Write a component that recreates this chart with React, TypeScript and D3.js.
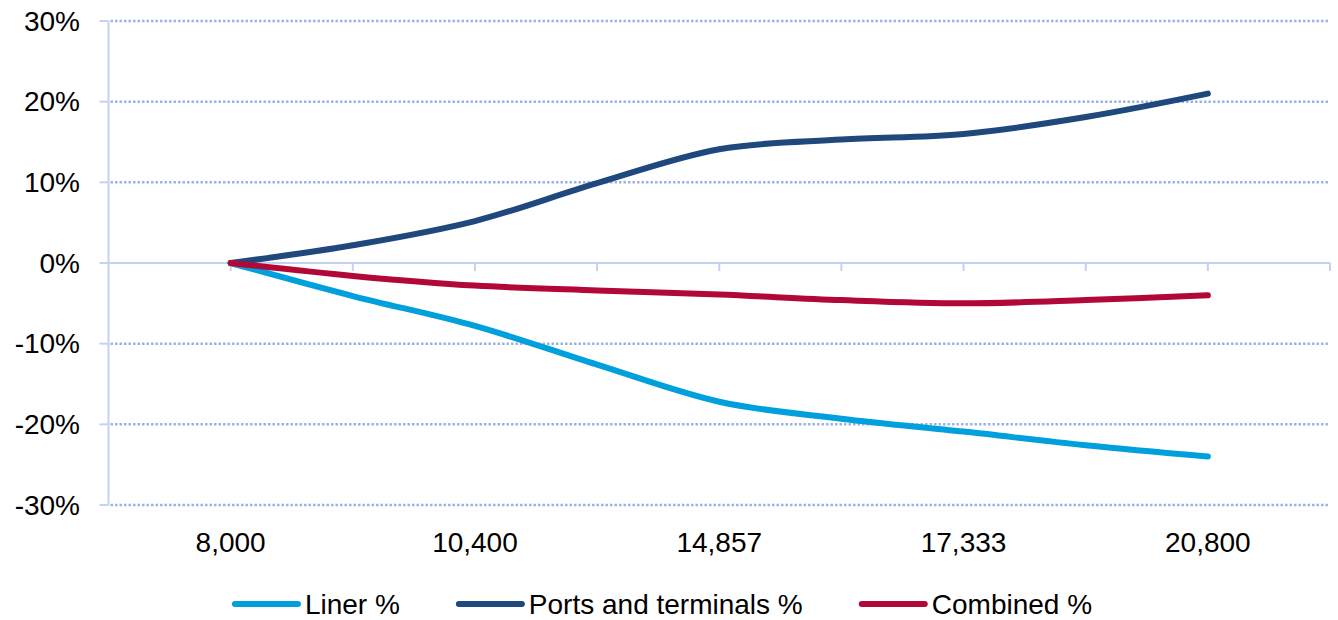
import * as d3 from 'd3';
import React, { useRef, useEffect } from 'react';

// x categories (only every other one carries a label)
const categories = ["8,000", "", "10,400", "", "14,857", "", "17,333", "", "20,800"];
const yTicks = [-0.3, -0.2, -0.1, 0, 0.1, 0.2, 0.3];

const linerValues = [0, -0.041, -0.078, -0.126, -0.172, -0.193, -0.209, -0.226, -0.240];
const portsValues = [0, 0.022, 0.052, 0.099, 0.141, 0.153, 0.160, 0.181, 0.210];
const combinedValues = [0, -0.016, -0.028, -0.034, -0.039, -0.046, -0.050, -0.046, -0.040];

const seriesNames = ["Liner %", "Ports and terminals %", "Combined %"];
const seriesColors = ["#00a0dc", "#1f497d", "#b20838"];

const W = 1338;
const H = 620;

function App() {
    const ref = useRef(null);

    useEffect(() => {
        draw();
    }, []);

    const draw = () => {
        const svg = d3.select(ref.current);
        svg.selectAll("*").remove();

        const font = "'Liberation Sans', Arial, sans-serif";
        const axisColor = "#c3d2f0";
        const gridColor = "#9bb4e6";

        const left = 108.5, right = 1330, top = 21, bottom = 505;

        // one empty slot before the first category and after the last
        const x = d3.scaleLinear().domain([-1, categories.length]).range([left, right]);
        const y = d3.scaleLinear().domain([-0.3, 0.3]).range([bottom, top]);

        // plain hyphen for negatives, like the original
        const pct = (v) => Math.round(v * 100) + "%";

        const g = svg.append("g");

        // dotted gridlines
        g.selectAll(".grid")
            .data(yTicks.filter(d => d !== 0))
            .enter()
            .append("line")
            .attr("x1", left + 2)
            .attr("x2", right)
            .attr("y1", d => y(d))
            .attr("y2", d => y(d))
            .attr("stroke", gridColor)
            .attr("stroke-width", 2.5)
            .attr("stroke-dasharray", "2.5,2");

        // y axis line + outward ticks
        g.append("line")
            .attr("x1", left).attr("x2", left)
            .attr("y1", top).attr("y2", bottom)
            .attr("stroke", axisColor).attr("stroke-width", 2);
        g.selectAll(".ytick")
            .data(yTicks)
            .enter()
            .append("line")
            .attr("x1", left - 9).attr("x2", left)
            .attr("y1", d => y(d)).attr("y2", d => y(d))
            .attr("stroke", axisColor).attr("stroke-width", 2);

        g.selectAll(".ylabel")
            .data(yTicks)
            .enter()
            .append("text")
            .attr("x", 80)
            .attr("y", d => y(d))
            .attr("dy", "0.35em")
            .attr("text-anchor", "end")
            .style("font-family", font)
            .style("font-size", "28px")
            .style("fill", "#000")
            .text(d => pct(d));

        // x axis at 0%
        g.append("line")
            .attr("x1", left).attr("x2", right)
            .attr("y1", y(0)).attr("y2", y(0))
            .attr("stroke", axisColor).attr("stroke-width", 2);
        const tickIdx = d3.range(0, categories.length + 1);
        g.selectAll(".xtick")
            .data(tickIdx)
            .enter()
            .append("line")
            .attr("x1", d => x(d)).attr("x2", d => x(d))
            .attr("y1", y(0)).attr("y2", y(0) + 8)
            .attr("stroke", axisColor).attr("stroke-width", 2);

        g.selectAll(".xlabel")
            .data(categories)
            .enter()
            .append("text")
            .attr("x", (d, i) => x(i))
            .attr("y", 542)
            .attr("dy", "0.35em")
            .attr("text-anchor", "middle")
            .style("font-family", font)
            .style("font-size", "28px")
            .style("fill", "#000")
            .text(d => d);

        // lines
        const allSeries = [linerValues, portsValues, combinedValues];
        const line = d3.line()
            .curve(d3.curveCatmullRom.alpha(0))
            .x((d, i) => x(i))
            .y(d => y(d));

        allSeries.forEach((vals, k) => {
            g.append("path")
                .datum(vals)
                .attr("d", line)
                .attr("fill", "none")
                .attr("stroke", seriesColors[k])
                .attr("stroke-width", 6)
                .attr("stroke-linecap", "round")
                .attr("stroke-linejoin", "round");
        });

        // legend, laid out by measured text width and centred
        const gap = 56;
        const legend = svg.append("g");
        let cx = 0;
        seriesNames.forEach((name, k) => {
            const item = legend.append("g").attr("transform", "translate(" + cx + ",0)");
            item.append("line")
                .attr("x1", 3).attr("x2", 66)
                .attr("y1", 0).attr("y2", 0)
                .attr("stroke", seriesColors[k])
                .attr("stroke-width", 6)
                .attr("stroke-linecap", "round");
            const t = item.append("text")
                .attr("x", 73)
                .attr("y", 0)
                .attr("dy", "0.35em")
                .style("font-family", font)
                .style("font-size", "28px")
                .style("fill", "#000")
                .text(name);
            const tw = t.node().getComputedTextLength();
            cx += 73 + tw + gap;
        });
        const total = cx - gap;
        legend.attr("transform", "translate(" + (662 - total / 2) + ",604)");
    };

    return (
        <div style={{ position: "absolute", left: 0, top: 0 }}>
            <svg ref={ref} width={W} height={H} style={{ display: "block", background: "#fff" }}></svg>
        </div>
    );
}

export default App;
